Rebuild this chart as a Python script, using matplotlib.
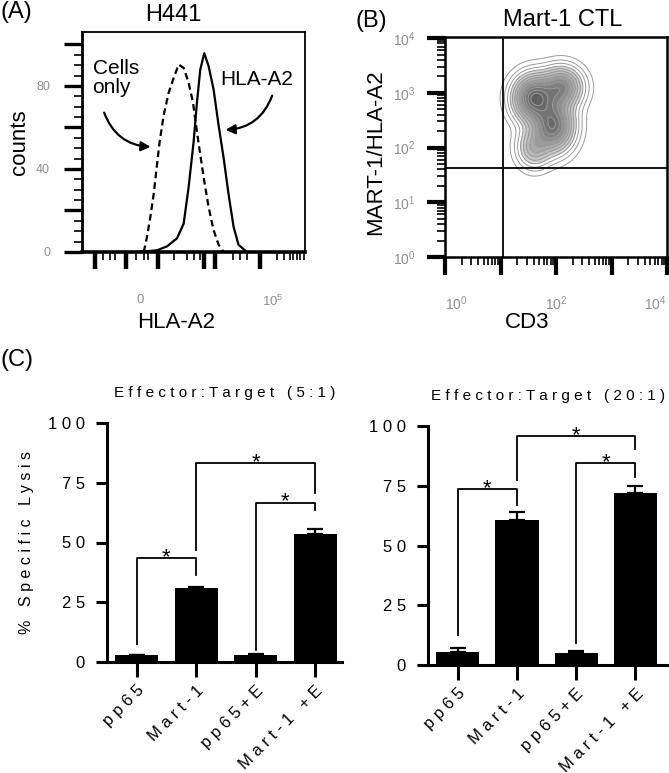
import numpy as np
import matplotlib
matplotlib.use('Agg')
import matplotlib.pyplot as plt
from matplotlib.ticker import FixedLocator, FixedFormatter, NullFormatter

plt.rcParams['font.family'] = ['Liberation Sans', 'DejaVu Sans']
plt.rcParams['mathtext.default'] = 'regular'

# (A) histograms: x in display units (0 = "0" tick, 1 = "10^5" tick)
hla_x = [-0.025, 0.125, 0.20, 0.276, 0.326, 0.363, 0.401, 0.426, 0.451, 0.481,
         0.514, 0.551, 0.589, 0.627, 0.664, 0.702, 0.739, 0.802]
hla_counts = [0, 0.8, 2.7, 6.6, 13.7, 31.1, 53.2, 72.1, 87.9, 95.8,
              89.5, 78.4, 61.1, 45.3, 27.9, 12.1, 3.5, 0]
cells_x = [0.025, 0.050, 0.075, 0.100, 0.125, 0.145, 0.175, 0.213, 0.251, 0.288,
           0.326, 0.363, 0.396, 0.426, 0.451, 0.481, 0.514, 0.551, 0.589, 0.627]
cells_counts = [0, 7.4, 16.9, 27.9, 42.1, 53.2, 65.8, 76.8, 83.9, 90.3,
                88.7, 81.6, 72.1, 57.9, 46.9, 34.2, 21.6, 10.6, 3.5, 0]

# (B) contour peaks in log10 units
peak_cd3 = [1.60, 1.95, 2.10, 1.60]
peak_mart = [2.90, 2.40, 3.10, 2.00]
peak_sx = [0.22, 0.22, 0.22, 0.18]
peak_sy = [0.25, 0.28, 0.22, 0.22]
peak_w = [1.0, 0.9, 0.7, 0.35]
gate_cd3 = 10 ** 1.05
gate_mart = 10 ** 1.63

# (C) cytotoxicity
groups = ['pp65', 'Mart-1', 'pp65+E', 'Mart-1 +E']
lysis_5 = [2.8, 30.8, 3.1, 53.4]
err_5 = [0.3, 0.4, 0.3, 2.3]
lysis_20 = [5.3, 60.7, 5.2, 72.1]
err_20 = [1.7, 3.5, 0.7, 2.8]
# brackets: (bar i, bar j, height, left leg end, right leg end)
sig_5 = [(0, 1, 43.4, 7.7, 36.4), (1, 3, 83.2, 46.9, 70.6), (2, 3, 66.7, 4.9, 63.6)]
sig_20 = [(0, 1, 73.5, 12.6, 66.9), (1, 3, 95.8, 77.4, 90.2), (2, 3, 84.4, 9.1, 78.8)]

W, H = 669, 773


def rect(x0, y0, x1, y1):
    return [x0 / W, 1 - y1 / H, (x1 - x0) / W, (y1 - y0) / H]


def spaced(s):
    return ' '.join(s)


fig = plt.figure(figsize=(W / 100, H / 100), dpi=100)

# ---------------- (A) ----------------
axA = fig.add_axes(rect(82, 32, 305, 252))
axA.plot(cells_x, cells_counts, color='black', lw=1.6, ls=(0, (3, 1.8)))
axA.plot(hla_x, hla_counts, color='black', lw=1.6)
axA.set_xlim(-0.44, 1.24)
axA.set_ylim(0, 106)

axA.yaxis.set_major_locator(FixedLocator([0, 20, 40, 60, 80, 100]))
axA.yaxis.set_major_formatter(FixedFormatter(['0', '', '40', '', '80', '']))
axA.yaxis.set_minor_locator(FixedLocator(np.arange(5, 105, 5)))
axA.tick_params(axis='y', which='major', length=13, width=2.4, pad=10,
                labelsize=9, labelcolor='#8f8f8f')
axA.tick_params(axis='y', which='minor', length=6, width=1.2)

axA.xaxis.set_major_locator(FixedLocator([-0.34, -0.11, 0.13, 0.48, 0.56, 0.90]))
axA.xaxis.set_major_formatter(NullFormatter())
axA.xaxis.set_minor_locator(FixedLocator([-0.28, -0.23, -0.19, -0.03, 0.03, 0.06, 0.25,
                                          0.35, 0.40, 0.45, 0.70, 0.75, 0.80, 1.03,
                                          1.08, 1.13, 1.15, 1.18, 1.20, 1.23]))
axA.tick_params(axis='x', which='major', length=12, width=3.2)
axA.tick_params(axis='x', which='minor', length=6, width=1.2)
for side, lw in [('left', 2.0), ('bottom', 2.6), ('top', 1.3), ('right', 1.3)]:
    axA.spines[side].set_linewidth(lw)

# tick labels of the x axis sit on a twin axis (marks above, labels here)
labA = axA.twiny()
labA.set_xlim(axA.get_xlim())
labA.xaxis.set_ticks_position('bottom')
labA.set_xticks([0, 1], ['0', '$10^5$'])
labA.tick_params(axis='x', length=0, pad=30, labelsize=9.5, labelcolor='#8f8f8f',
                 labelbottom=True, labeltop=False)
for side in labA.spines:
    labA.spines[side].set_visible(False)

axA.text(-0.36, 93, 'Cells\nonly', fontsize=15, ha='left', va='top', linespacing=1.0)
axA.text(0.60, 83, 'HLA-A2', fontsize=15, ha='left', va='center')
axA.annotate('', xy=(0.098, 50.6), xytext=(-0.28, 68.4),
             arrowprops=dict(arrowstyle='-|>', connectionstyle='arc3,rad=0.35',
                             lw=1.6, color='black', mutation_scale=14))
axA.annotate('', xy=(0.62, 58.8), xytext=(1.0, 76.6),
             arrowprops=dict(arrowstyle='-|>', connectionstyle='arc3,rad=-0.35',
                             lw=1.6, color='black', mutation_scale=14))

fig.text(0 / W, 1 - 12 / H, '(A)', fontsize=17, ha='left', va='center')
fig.text(173 / W, 1 - 15 / H, 'H441', fontsize=17, ha='center', va='center')
fig.text(20 / W, 1 - 142 / H, 'counts', fontsize=16, ha='center', va='center', rotation=90)
fig.text(176 / W, 1 - 322 / H, 'HLA-A2', fontsize=16, ha='center', va='center')

# ---------------- (B) ----------------
axB = fig.add_axes(rect(445, 37, 667, 257))
axB.set_xscale('log')
axB.set_yscale('log')
axB.set_xlim(1, 1e4)
axB.set_ylim(1, 10 ** 4.02)

gx, gy = np.meshgrid(np.linspace(0, 4, 300), np.linspace(0, 4.02, 300))
dens = np.zeros_like(gx)
for cx, cy, sx, sy, w in zip(peak_cd3, peak_mart, peak_sx, peak_sy, peak_w):
    dens += w * np.exp(-((gx - cx) ** 2 / (2 * sx ** 2) + (gy - cy) ** 2 / (2 * sy ** 2)))
top = dens.max()
lev = top * np.array([0.02, 0.05, 0.09, 0.14, 0.20, 0.27, 0.35, 0.44, 0.54, 0.64,
                      0.74, 0.84, 0.93])
axB.contourf(10 ** gx, 10 ** gy, dens, levels=list(lev[3:]) + [top * 1.01],
             colors=['#d6d6d6', '#c6c6c6', '#b8b8b8', '#aaaaaa', '#9c9c9c',
                     '#8e8e8e', '#808080', '#747474', '#6a6a6a', '#606060', '#585858'])
axB.contour(10 ** gx, 10 ** gy, dens, levels=lev, colors='#9a9a9a', linewidths=0.7)
axB.axvline(gate_cd3, color='black', lw=1.3)
axB.axhline(gate_mart, color='black', lw=1.3)

axB.xaxis.set_major_locator(FixedLocator([1, 10, 100, 1e3, 1e4]))
axB.xaxis.set_major_formatter(FixedFormatter(['$10^0$', '', '$10^2$', '', '$10^4$']))
axB.yaxis.set_major_locator(FixedLocator([1, 10, 100, 1e3, 1e4]))
axB.yaxis.set_major_formatter(FixedFormatter(['$10^0$', '$10^1$', '$10^2$', '$10^3$', '$10^4$']))
minors = [k * 10 ** d for d in range(4) for k in range(2, 10)]
axB.xaxis.set_minor_locator(FixedLocator(minors))
axB.yaxis.set_minor_locator(FixedLocator(minors))
axB.xaxis.set_minor_formatter(NullFormatter())
axB.yaxis.set_minor_formatter(NullFormatter())
axB.tick_params(which='major', length=13, width=3.0, labelsize=10, labelcolor='#8f8f8f')
axB.tick_params(axis='x', which='major', pad=14)
axB.tick_params(axis='y', which='major', pad=8)
axB.tick_params(which='minor', length=6, width=1.2)
for lab, ha in zip(axB.get_xticklabels(), ['left', 'center', 'center', 'center', 'right']):
    lab.set_ha(ha)
for side in ['left', 'bottom', 'top', 'right']:
    axB.spines[side].set_linewidth(1.8)

fig.text(355 / W, 1 - 21 / H, '(B)', fontsize=17, ha='left', va='center')
fig.text(563 / W, 1 - 20 / H, 'Mart-1 CTL', fontsize=17, ha='center', va='center')
fig.text(376 / W, 1 - 152 / H, 'MART-1/HLA-A2', fontsize=16, ha='center', va='center',
         rotation=90)
fig.text(527 / W, 1 - 322 / H, 'CD3', fontsize=16, ha='center', va='center')

# ---------------- (C) ----------------
panels = [(rect(107, 423, 342, 662), lysis_5, err_5, sig_5, 'Effector:Target (5:1)', 3.45),
          (rect(428, 426, 668, 665), lysis_20, err_20, sig_20, 'Effector:Target (20:1)', 3.55)]
for box, vals, errs, sig, title, xr in panels:
    ax = fig.add_axes(box)
    x = np.arange(len(groups))
    ax.bar(x, vals, width=0.73, color='black')
    ax.errorbar(x, vals, yerr=[np.zeros(len(vals)), errs], fmt='none', ecolor='black',
                elinewidth=1.6, capsize=6, capthick=1.6)
    for i, j, yb, yl, yr in sig:
        ax.plot([i, i, j, j], [yl, yb, yb, yr], color='black', lw=1.3, clip_on=False)
        ax.text((i + j) / 2, yb - 2.0, '*', fontsize=16, ha='center', va='baseline',
                clip_on=False)
    ax.set_xlim(-0.5, xr)
    ax.set_ylim(0, 100)
    ax.set_yticks([0, 25, 50, 75, 100], [spaced(str(v)) for v in [0, 25, 50, 75, 100]])
    ax.set_xticks(x, [spaced(g) for g in groups], rotation=45, ha='right',
                  rotation_mode='anchor')
    ax.tick_params(axis='y', length=8, width=2.2, labelsize=12, pad=8)
    ax.tick_params(axis='x', length=11, width=2.2, labelsize=12, pad=4)
    ax.spines['top'].set_visible(False)
    ax.spines['right'].set_visible(False)
    ax.spines['left'].set_linewidth(2.2)
    ax.spines['bottom'].set_linewidth(2.2)
    ax.set_title(spaced(title), fontsize=11, pad=19)

fig.text(0 / W, 1 - 360 / H, '(C)', fontsize=17, ha='left', va='center')
fig.text(27 / W, 1 - 543 / H, spaced('% Specific Lysis'), fontsize=11.5, ha='center',
         va='center', rotation=90)

fig.savefig('out.png', dpi=100)
